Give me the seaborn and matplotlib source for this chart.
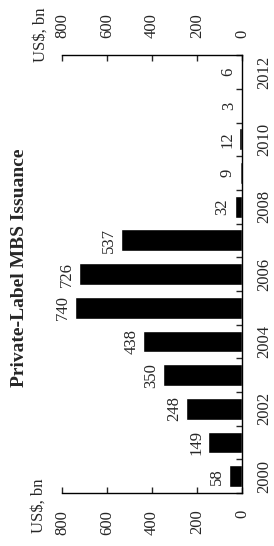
import seaborn as sns
import matplotlib.pyplot as plt
from matplotlib.ticker import FixedLocator

years = [2000, 2001, 2002, 2003, 2004, 2005, 2006, 2007, 2008, 2009, 2010, 2011, 2012]
issuance = [58, 149, 248, 350, 438, 740, 726, 537, 32, 9, 12, 3, 6]
value_ticks = [800, 600, 400, 200, 0]
title = "Private-Label MBS Issuance"
unit = "US$, bn"

sns.set_theme(style="white")
plt.rcParams['font.family'] = ['Liberation Serif', 'DejaVu Serif']

fig = plt.figure(figsize=(2.74, 5.46), dpi=100)
ax = fig.add_axes([0.226, 0.097, 0.657, 0.802])

# chart is drawn turned on its side: years run bottom to top, bars grow leftwards
labels = [str(y) for y in years]
order = labels[::-1]
sns.barplot(x=issuance, y=labels, order=order, orient='h', color='black',
            width=0.65, errorbar=None, saturation=1, ax=ax)

ax.set_xlim(800, 0)
ax.set_ylim(len(years) - 0.5, -0.5)
ax.set_xlabel('')
ax.set_ylabel('')

for c in ax.containers:
    ax.bar_label(c, fmt='{:.0f}', rotation=90, padding=3, fontsize=12)

# value axis on top and bottom
ax.set_xticks(value_ticks)
ax.set_xticklabels([str(v) for v in value_ticks])
ax.tick_params(axis='x', top=True, bottom=True, labeltop=True, labelbottom=True,
               direction='in', length=4, width=1, labelrotation=90, labelsize=12,
               pad=12)

# year axis on the right, labels every other year, ticks between bars
ax.yaxis.tick_right()
ax.set_yticks(range(len(order)))
ax.set_yticklabels([l if int(l) % 2 == 0 else '' for l in order])
ax.yaxis.set_minor_locator(FixedLocator([i - 0.5 for i in range(len(order) + 1)]))
ax.tick_params(axis='y', which='major', length=0, labelrotation=90, labelsize=12,
               pad=10)
ax.tick_params(axis='y', which='minor', right=True, left=False, direction='in',
               length=4, width=1)
for t in ax.get_yticklabels():
    t.set_verticalalignment('center')

for s in ['top', 'bottom', 'right']:
    ax.spines[s].set_visible(True)
    ax.spines[s].set_color('black')
    ax.spines[s].set_linewidth(1.0)
ax.spines['left'].set_visible(False)

fig.text(0.072, 0.509, title, rotation=90, ha='center', va='center',
         fontsize=14, fontweight='bold')
fig.text(0.15, 0.936, unit, rotation=90, ha='center', va='center', fontsize=12)
fig.text(0.142, 0.073, unit, rotation=90, ha='center', va='center', fontsize=12)

fig.savefig('out.png', dpi=100)
